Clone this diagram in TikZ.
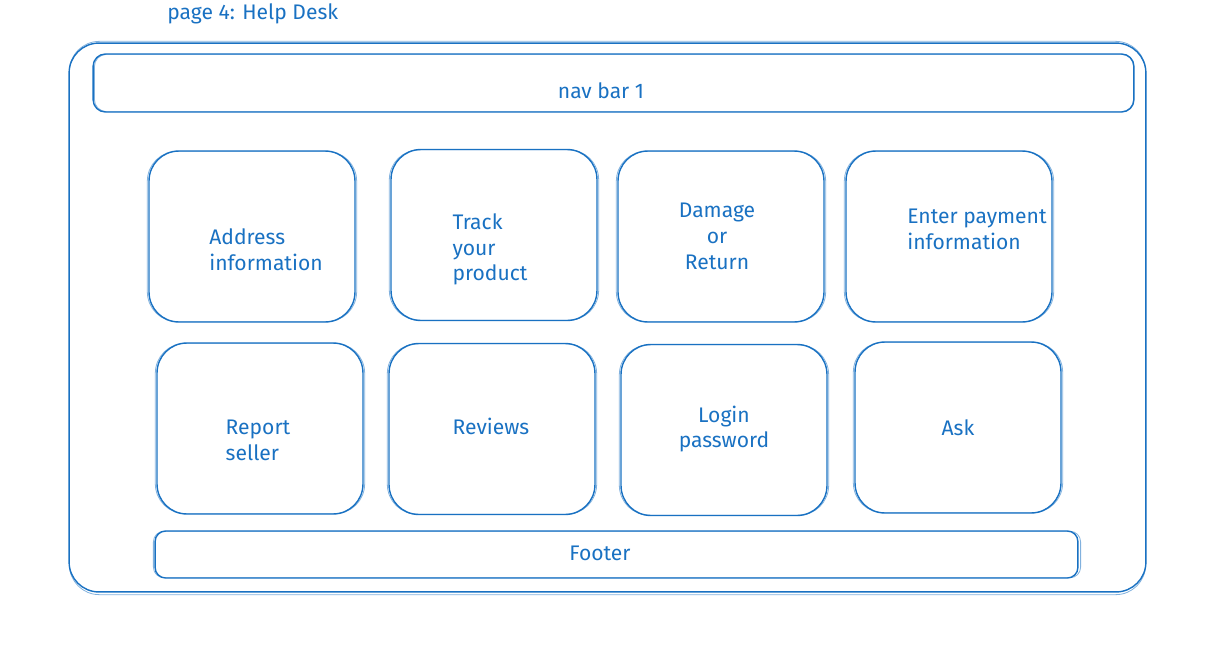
\documentclass[tikz,border=0pt]{standalone}
\usepackage{fontspec}
\setmainfont{Fira Sans}
\usetikzlibrary{positioning}
\definecolor{sketchblue}{RGB}{25,113,194}

\tikzset{
    frame/.style={draw=sketchblue, line width=0.8pt, rounded corners=17pt, inner sep=0pt},
    card/.style={frame, minimum width=4.12cm, minimum height=3.42cm},
    echo/.style={draw=sketchblue, line width=0.45pt, opacity=0.55},
    lbl/.style={text=sketchblue, inner sep=0pt, font=\fontsize{12}{14.7}\selectfont}
}

\begin{document}
\begin{tikzpicture}[x=0.02cm, y=-0.02cm]
    \useasboundingbox (0,0) rectangle (1211,646);
    \node[lbl, anchor=west] (title) at (167,14) {page 4: Help Desk};
    % page frame, nav bar and footer
    \node[frame, minimum width=21.54cm, minimum height=10.98cm] (page) at (607.5,317.5) {};
    \node[frame, rounded corners=7pt, minimum width=20.82cm, minimum height=1.16cm] (nav) at (613.5,83) {};
    \node[frame, rounded corners=6pt, minimum width=18.46cm, minimum height=0.94cm] (footer) at (616.5,554.5) {};
    \draw[echo, rounded corners=17pt] ([shift={(1,-1)}]page.north west) rectangle ([shift={(-1,2)}]page.south east);
    \draw[echo, rounded corners=7pt] ([shift={(2,1)}]nav.north west) rectangle ([shift={(-1,-1)}]nav.south east);
    \draw[echo, rounded corners=6pt] ([shift={(-1,1)}]footer.north west) rectangle ([shift={(2,-1)}]footer.south east);
    % help cards
    \foreach \n/\x/\y in {addr/252/236.5, track/494/235, damage/721/236.5, pay/949/236.5,
                          report/260/428.5, reviews/492/429, login/724/430, ask/958/427.5} {
        \node[card] (\n) at (\x,\y) {};
        \draw[echo, rounded corners=17pt] ([shift={(-1,1)}]\n.north west) rectangle ([shift={(1,-1)}]\n.south east);
    }
    % texts
    \node[lbl] (nav-t) at (601,91) {nav bar 1};
    \node[lbl] (footer-t) at (600,553) {Footer};
    \node[lbl, align=left] (addr-t) at (266,250) {Address\\information};
    \node[lbl, align=left] (track-t) at (490,249.5) {Track\\your\\product};
    \node[lbl, align=center] (damage-t) at (717,236.5) {Damage\\or\\Return};
    \node[lbl, align=left] (pay-t) at (977,229) {Enter payment\\information};
    \node[lbl, align=left] (report-t) at (258,440) {Report\\seller};
    \node[lbl] (reviews-t) at (491,426) {Reviews};
    \node[lbl, align=center] (login-t) at (724,429) {Login\\password};
    \node[lbl] (ask-t) at (958,428) {Ask};
\end{tikzpicture}
\end{document}
